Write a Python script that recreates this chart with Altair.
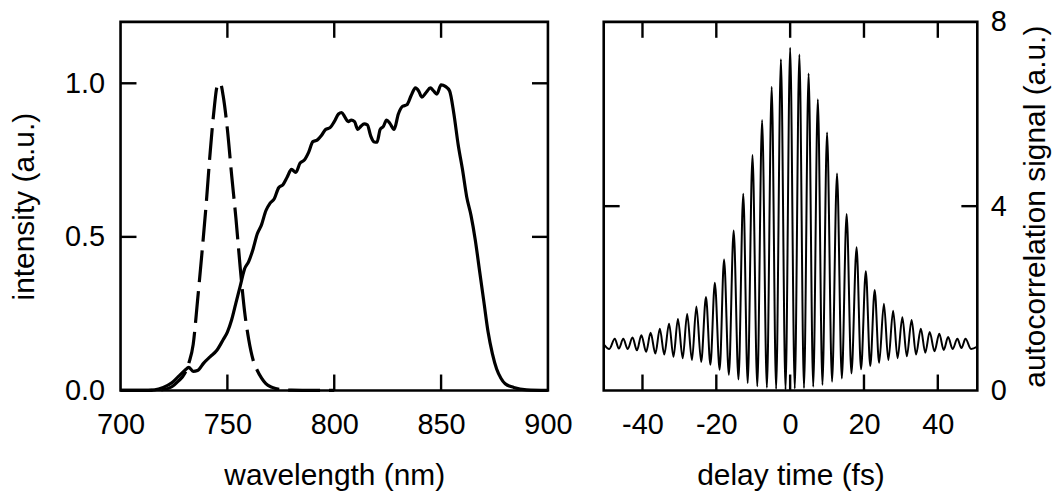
import altair as alt
import pandas as pd

# ---------------- data ----------------
wl_solid = [700, 710, 716, 720, 724, 727, 730, 732, 734, 736, 739, 742, 745, 748, 750,
            752, 754, 756, 758, 760, 762, 764, 766, 768, 770, 772, 774, 776, 778, 780,
            782, 784, 786, 788, 790, 792, 794, 796, 798, 800, 802, 803.5, 805, 806.5, 808,
            809.5, 811, 812.5, 814, 815.5, 817, 818.5, 820, 821.5, 823, 824.5, 826, 828,
            830, 832, 834, 836, 838, 839.5, 841, 843, 845, 846.5, 848, 850, 852, 854, 856,
            858, 860, 862, 864, 866, 868, 870, 872, 874, 876, 878, 880, 884, 890, 900]
int_solid = [0, 0, 0.002, 0.01, 0.025, 0.045, 0.065, 0.075, 0.062, 0.065, 0.09, 0.11, 0.13, 0.165, 0.19,
             0.23, 0.285, 0.34, 0.395, 0.42, 0.46, 0.51, 0.54, 0.585, 0.61, 0.625, 0.66, 0.67, 0.695, 0.72,
             0.71, 0.74, 0.75, 0.775, 0.81, 0.815, 0.83, 0.85, 0.855, 0.875, 0.9, 0.905, 0.89, 0.875, 0.88,
             0.875, 0.85, 0.86, 0.868, 0.865, 0.83, 0.81, 0.808, 0.85, 0.86, 0.88, 0.87, 0.85,
             0.9, 0.925, 0.93, 0.96, 0.985, 0.975, 0.955, 0.97, 0.985, 0.975, 0.965, 0.995, 0.99, 0.975, 0.9,
             0.8, 0.72, 0.63, 0.57, 0.49, 0.39, 0.29, 0.19, 0.12, 0.07, 0.04, 0.022, 0.01, 0.002, 0]

wl_dash = [700, 715, 720, 724, 727, 730, 732, 734, 736, 738, 740, 742, 744, 745, 746, 747, 748,
           750, 752, 754, 756, 758, 760, 762, 764, 766, 768, 771, 775, 780, 790, 800]
int_dash = [0, 0, 0.003, 0.012, 0.03, 0.055, 0.09, 0.15, 0.29, 0.44, 0.6, 0.78, 0.93, 0.985, 1.0, 0.995, 0.96,
            0.85, 0.7, 0.56, 0.4, 0.26, 0.165, 0.1, 0.065, 0.04, 0.022, 0.01, 0.003, 0.001, 0, 0]

# autocorrelation: alternating fringe extrema (peak / trough), left edge to right edge
ac_time = [-50.5, -49.0, -47.5, -46.4, -45.2, -44.0, -42.7, -41.5, -40.3, -39.0, -37.8, -36.5,
           -35.3, -34.1, -32.8, -31.6, -30.4, -29.1, -27.9, -26.6, -25.4, -24.1, -22.8, -21.6,
           -20.4, -19.1, -17.9, -16.6, -15.3, -14.0, -12.7, -11.5, -10.2, -8.9, -7.6, -6.3,
           -5.0, -3.8, -2.5, -1.25, 0.0, 1.25, 2.5, 3.75, 5.0, 6.25, 7.5, 8.75, 10.0, 11.35,
           12.7, 14.0, 15.3, 16.6, 18.0, 19.2, 20.5, 21.7, 22.9, 24.1, 25.4, 26.6, 27.9, 29.1,
           30.4, 31.6, 32.9, 34.1, 35.4, 36.6, 37.8, 39.1, 40.4, 41.6, 42.8, 44.0, 45.3, 46.4,
           47.5, 49.0, 50.7]
ac_signal = [1.0, 0.9, 1.12, 0.91, 1.12, 0.9, 1.15, 0.87, 1.2, 0.84, 1.25, 0.8,
             1.34, 0.78, 1.45, 0.73, 1.55, 0.7, 1.66, 0.66, 1.82, 0.62, 2.03, 0.56,
             2.34, 0.45, 2.84, 0.34, 3.47, 0.24, 4.27, 0.16, 5.11, 0.09, 5.87, 0.06,
             6.59, 0.03, 7.19, 0.02, 7.44, 0.04, 7.29, 0.05, 6.88, 0.08, 6.32, 0.12, 5.60, 0.19,
             4.71, 0.26, 3.83, 0.37, 3.11, 0.46, 2.59, 0.53, 2.18, 0.6, 1.88, 0.66, 1.73, 0.7,
             1.59, 0.74, 1.53, 0.78, 1.34, 0.82, 1.27, 0.85, 1.23, 0.88, 1.16, 0.9, 1.12, 0.92,
             1.12, 0.9, 0.95]

wl_axis_values = [700, 750, 800, 850, 900]
int_axis_values = [0.0, 0.5, 1.0]
delay_axis_values = [-40, -20, 0, 20, 40]
ac_axis_values = [0, 4, 8]

wl_inner_ticks = [750, 800, 850]
int_inner_ticks = [0.5, 1.0]
delay_inner_ticks = [-40, -20, 0, 20, 40]
ac_inner_ticks = [4]

# ---------------- styling ----------------
FONT = "Liberation Sans"
W1, W2, H = 429, 375, 370
TL = 16          # inward tick length
TW = 2.4         # tick width
LBL = 29
TTL = 30

common_axis = dict(domain=False, ticks=False, tickSize=0, grid=False,
                   labelFont=FONT, labelFontSize=LBL, labelColor="black",
                   titleFont=FONT, titleFontSize=TTL, titleFontWeight="normal",
                   titleColor="black", labelFlush=False)

ax_wl = alt.Axis(values=wl_axis_values, title="wavelength (nm)",
                 labelPadding=20, titlePadding=21, format="d", **common_axis)
ax_int = alt.Axis(values=int_axis_values, title="intensity (a.u.)", format=".1f",
                  labelPadding=16, titlePadding=25, **common_axis)
ax_t = alt.Axis(values=delay_axis_values, title="delay time (fs)",
                labelExpr="toString(datum.value)",
                labelPadding=20, titlePadding=21, **common_axis)
ax_ac = alt.Axis(values=ac_axis_values, title="autocorrelation signal (a.u.)",
                 orient="right", format="d", labelPadding=13, titlePadding=14,
                 titleAngle=270, titleBaseline="top", **common_axis)

# ---------------- left panel: spectra ----------------
xs1 = alt.Scale(domain=[700, 900], nice=False, zero=False)
ys1 = alt.Scale(domain=[0, 1.2], nice=False, zero=False)

solid_df = pd.DataFrame({"wl": wl_solid, "I": int_solid})
dash_df = pd.DataFrame({"wl": wl_dash, "I": int_dash})

solid = alt.Chart(solid_df).mark_line(color="black", strokeWidth=3.2, interpolate="monotone").encode(
    x=alt.X("wl:Q", scale=xs1, axis=ax_wl),
    y=alt.Y("I:Q", scale=ys1, axis=ax_int),
)
dashed = alt.Chart(dash_df).mark_line(color="black", strokeWidth=3.2, strokeDash=[32, 9],
                                      interpolate="monotone").encode(
    x=alt.X("wl:Q", scale=xs1, axis=ax_wl),
    y=alt.Y("I:Q", scale=ys1, axis=ax_int),
)

wlt = pd.DataFrame({"wl": wl_inner_ticks})
it = pd.DataFrame({"I": int_inner_ticks})
tick_b1 = alt.Chart(wlt).mark_rule(color="black", strokeWidth=TW).encode(
    x=alt.X("wl:Q", scale=xs1, axis=ax_wl), y=alt.value(H), y2=alt.value(H - TL))
tick_t1 = alt.Chart(wlt).mark_rule(color="black", strokeWidth=TW).encode(
    x=alt.X("wl:Q", scale=xs1, axis=ax_wl), y=alt.value(0), y2=alt.value(TL))
tick_l1 = alt.Chart(it).mark_rule(color="black", strokeWidth=TW).encode(
    y=alt.Y("I:Q", scale=ys1, axis=ax_int), x=alt.value(0), x2=alt.value(TL))
tick_r1 = alt.Chart(it).mark_rule(color="black", strokeWidth=TW).encode(
    y=alt.Y("I:Q", scale=ys1, axis=ax_int), x=alt.value(W1), x2=alt.value(W1 - TL))

left = alt.layer(solid, dashed, tick_b1, tick_t1, tick_l1, tick_r1).properties(width=W1, height=H)

# ---------------- right panel: autocorrelation ----------------
xs2 = alt.Scale(domain=[-50.5, 50.7], nice=False, zero=False)
ys2 = alt.Scale(domain=[0, 8], nice=False, zero=False)

ac_df = pd.DataFrame({"t": ac_time, "s": ac_signal})
ac = alt.Chart(ac_df).mark_line(color="black", strokeWidth=2, interpolate="monotone").encode(
    x=alt.X("t:Q", scale=xs2, axis=ax_t),
    y=alt.Y("s:Q", scale=ys2, axis=ax_ac),
)

dt = pd.DataFrame({"t": delay_inner_ticks})
at = pd.DataFrame({"s": ac_inner_ticks})
tick_b2 = alt.Chart(dt).mark_rule(color="black", strokeWidth=TW).encode(
    x=alt.X("t:Q", scale=xs2, axis=ax_t), y=alt.value(H), y2=alt.value(H - TL))
tick_t2 = alt.Chart(dt).mark_rule(color="black", strokeWidth=TW).encode(
    x=alt.X("t:Q", scale=xs2, axis=ax_t), y=alt.value(0), y2=alt.value(TL))
tick_l2 = alt.Chart(at).mark_rule(color="black", strokeWidth=TW).encode(
    y=alt.Y("s:Q", scale=ys2, axis=ax_ac), x=alt.value(0), x2=alt.value(TL))
tick_r2 = alt.Chart(at).mark_rule(color="black", strokeWidth=TW).encode(
    y=alt.Y("s:Q", scale=ys2, axis=ax_ac), x=alt.value(W2), x2=alt.value(W2 - TL))

right = alt.layer(ac, tick_b2, tick_t2, tick_l2, tick_r2).properties(width=W2, height=H)

chart = alt.hconcat(left, right, spacing=56, bounds="flush").properties(
    padding={"left": 8, "top": 5, "right": 6, "bottom": 3},
    background="white",
).configure_view(stroke="black", strokeWidth=2.6)

chart.save("out.html", embed_options={"renderer": "svg", "actions": False})
